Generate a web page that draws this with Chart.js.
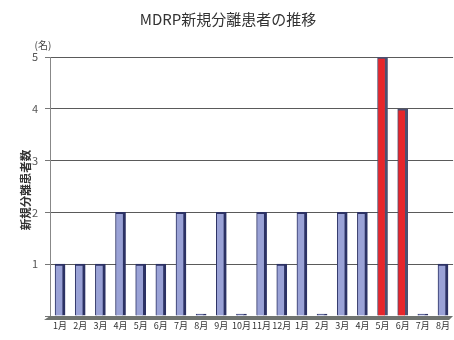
<!DOCTYPE html>
<html>
<head>
<meta charset="utf-8">
<script src="https://cdn.jsdelivr.net/npm/chart.js@4/dist/chart.umd.min.js"></script>
<style>
  html, body { margin: 0; padding: 0; background: #fff; }
  #wrap { width: 454px; height: 340px; position: relative; }
</style>
</head>
<body>
<div id="wrap"><canvas id="myChart"></canvas></div>
<script>
// month labels along the bottom
const months = ["1月", "2月", "3月", "4月", "5月", "6月", "7月", "8月", "9月", "10月",
                "11月", "12月", "1月", "2月", "3月", "4月", "5月", "6月", "7月", "8月"];
// new MDRP isolates per month
const patients = [1, 1, 1, 2, 1, 1, 2, 0, 2, 0, 2, 1, 2, 0, 2, 2, 5, 4, 0, 1];
// months drawn in red
const highlighted = [16, 17];
const yTicks = [1, 2, 3, 4, 5];

const chartTitle = "MDRP新規分離患者の推移";
const yTitle = "新規分離患者数";
const unitLabel = "(名)";

const FONT = "'Noto Sans CJK JP', 'Noto Sans', sans-serif";

const fillColors = patients.map((v, i) => highlighted.includes(i) ? "#e6262b" : "#9aa2d6");
const edgeColors = patients.map((v, i) => highlighted.includes(i) ? "#4b5070" : "#2c3264");

// title, unit, vertical axis title and the grey floor under the bars
const decorations = {
    id: "decorations",
    beforeDatasetsDraw(chart) {
        const { ctx, chartArea } = chart;
        ctx.save();
        ctx.fillStyle = "#6f736f";
        ctx.beginPath();
        ctx.moveTo(chartArea.left, chartArea.bottom);
        ctx.lineTo(chartArea.right, chartArea.bottom);
        ctx.lineTo(chartArea.right - 4, chartArea.bottom + 4);
        ctx.lineTo(chartArea.left - 6, chartArea.bottom + 4);
        ctx.closePath();
        ctx.fill();
        ctx.restore();
    },
    afterDraw(chart) {
        const { ctx } = chart;
        ctx.save();
        ctx.fillStyle = "#333";
        ctx.textAlign = "center";
        ctx.textBaseline = "middle";
        ctx.font = "15px " + FONT;
        ctx.fillText(chartTitle, 228, 19);

        ctx.font = "10px " + FONT;
        ctx.fillStyle = "#444";
        ctx.fillText(unitLabel, 43, 45);

        ctx.translate(26, 190);
        ctx.rotate(-Math.PI / 2);
        ctx.font = "bold 11.5px " + FONT;
        ctx.fillStyle = "#333";
        ctx.fillText(yTitle, 0, 0);
        ctx.restore();
    }
};

const config = {
    type: "bar",
    data: {
        labels: months,
        datasets: [{
            data: patients,
            backgroundColor: fillColors,
            borderColor: edgeColors,
            borderWidth: { left: 1, right: 3, top: 2, bottom: 0 },
            borderSkipped: false,
            barThickness: 10,
            minBarLength: 2
        }]
    },
    options: {
        responsive: true,
        maintainAspectRatio: false,
        animation: false,
        layout: { padding: { top: 57, right: 0, bottom: 0, left: 0 } },
        plugins: {
            legend: { display: false },
            tooltip: { enabled: false },
            title: { display: false }
        },
        scales: {
            x: {
                grid: { display: false, drawTicks: false },
                border: { display: false },
                ticks: {
                    autoSkip: false,
                    maxRotation: 0,
                    padding: 4,
                    color: "#333",
                    font: { size: 9, family: FONT }
                },
                afterFit(scale) { scale.height = 24; }
            },
            y: {
                min: 0,
                max: 5,
                afterBuildTicks(scale) {
                    scale.ticks = [0].concat(yTicks).map(v => ({ value: v }));
                },
                grid: {
                    color: ctx => ctx.tick && ctx.tick.value === 0 ? "rgba(0,0,0,0)" : "#5a5a5a",
                    lineWidth: 1,
                    tickLength: 5,
                    tickColor: "#777"
                },
                border: { display: true, color: "#888", width: 1 },
                ticks: {
                    padding: 7,
                    color: "#555",
                    font: { size: 11, family: FONT },
                    callback: v => v === 0 ? "" : v
                },
                afterFit(scale) { scale.width = 50; }
            }
        }
    },
    plugins: [decorations]
};

new Chart(document.getElementById("myChart"), config);
</script>
</body>
</html>
